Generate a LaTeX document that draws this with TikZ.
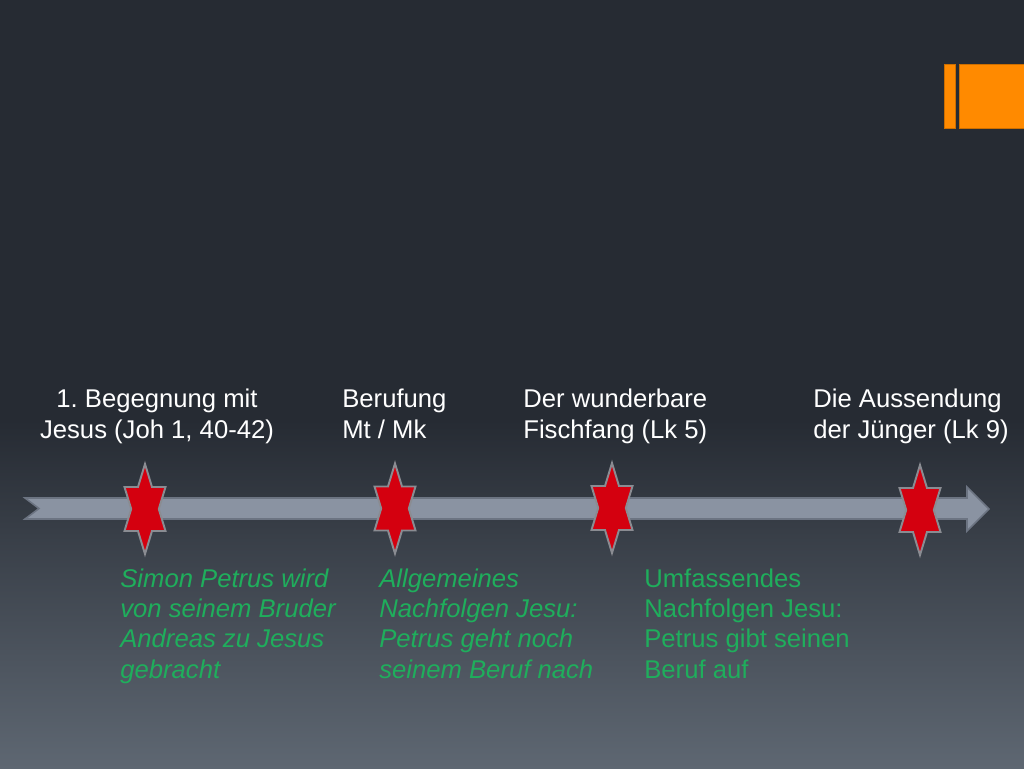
\documentclass[tikz,border=0pt]{standalone}
\usepackage{fontspec}
\setmainfont{Liberation Sans}
\usepackage{tikz}
\usetikzlibrary{positioning}
\usepackage{xcolor}
\definecolor{bgtop}{HTML}{262B33}
\definecolor{bgbot}{HTML}{5E6772}
\definecolor{tbar}{HTML}{8A93A2}
\definecolor{tedge}{HTML}{6C7482}
\definecolor{sred}{HTML}{D4000F}
\definecolor{sedge}{HTML}{8A8C92}
\definecolor{fgreen}{HTML}{1FAE5C}
\definecolor{forange}{HTML}{FF8A00}
\frenchspacing

\begin{document}
\begin{tikzpicture}[x=0.02cm, y=-0.02cm,
  lbl/.style={text=white, inner sep=0pt, font=\fontsize{14.6}{17.1}\selectfont},
  note/.style={text=fgreen, inner sep=0pt, align=left, anchor=base west,
               font=\fontsize{14.6}{17.1}\selectfont}]
% ---------------- background ----------------
\useasboundingbox (0,0) rectangle (1024,768);
\fill[bgtop] (0,0) rectangle (1024,768);
\shade[top color=bgtop, bottom color=bgbot] (0,420) rectangle (1024,768);
\fill[forange, draw=forange!80!black, line width=0.4pt] (944,64) rectangle (955,128);
\fill[forange, draw=forange!80!black, line width=0.4pt] (959,64) rectangle (1026,128);
% ---------------- time line ----------------
\draw[tedge, fill=tbar, line width=0.9pt] (25,498) -- (967,498) -- (967,487)
    -- (989,509) -- (967,531) -- (967,519) -- (25,519) -- (39,508.5) -- cycle;
% stars: hexagram, stretched upright
\foreach \sx/\sy in {145/509, 395/508.5, 612/508, 920/510}{
  \draw[sedge, fill=sred, line width=1.1pt, line join=miter, shift={(\sx,\sy)}]
    (0,-45) -- (7,-22) -- (20.5,-22) -- (13.8,0) -- (20.5,22) -- (7,22)
    -- (0,45) -- (-7,22) -- (-20.5,22) -- (-13.8,0) -- (-20.5,-22) -- (-7,-22) -- cycle;
}
% ---------------- events above (base = last line) ----------------
\node[lbl, align=center, anchor=base] (begegnung) at (157,438)
  {1. Begegnung mit\\Jesus (Joh 1, 40-42)};
\node[lbl, align=left, anchor=base west] (berufung) at (342,438)
  {Berufung\\Mt / Mk};
\node[lbl, align=left, anchor=base west] (fischfang) at (523,438)
  {Der wunderbare\\Fischfang (Lk 5)};
\node[lbl, align=left, anchor=base west] (aussendung) at (813,438)
  {Die Aussendung\\der Jünger (Lk 9)};
% ---------------- notes below ----------------
\node[note, font=\fontsize{14.6}{17.1}\selectfont\itshape] (bruder) at (120,678)
  {Simon Petrus wird\\von seinem Bruder\\Andreas zu Jesus\\gebracht};
\node[note, font=\fontsize{14.6}{17.1}\selectfont\itshape] (allgemein) at (379,678)
  {Allgemeines\\Nachfolgen Jesu:\\Petrus geht noch\\seinem Beruf nach};
\node[note] (umfassend) at (644,678)
  {Umfassendes\\Nachfolgen Jesu:\\Petrus gibt seinen\\Beruf auf};
\end{tikzpicture}
\end{document}
